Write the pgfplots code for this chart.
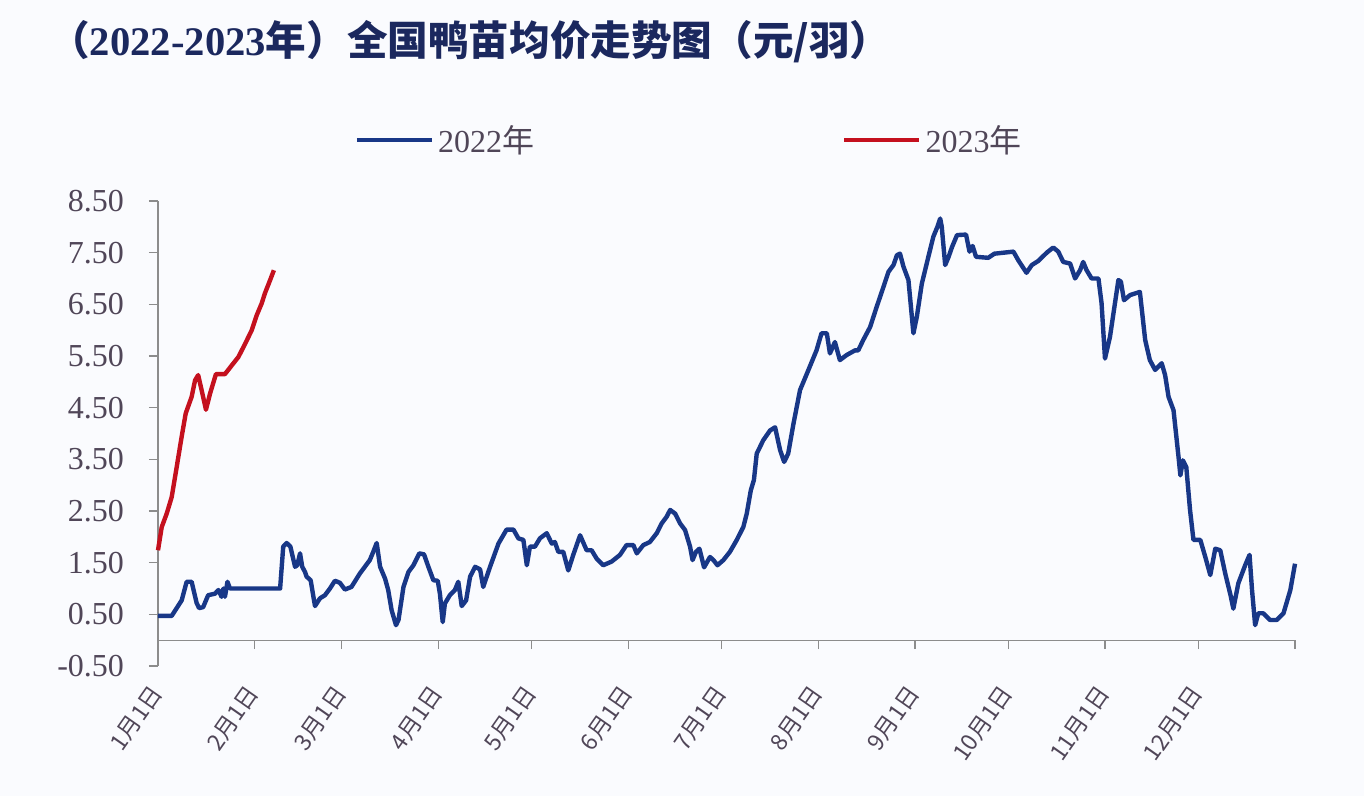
\documentclass[border=0pt]{standalone}
\usepackage{pgfplots}
\pgfplotsset{compat=1.18}
\usepackage{fontspec}
\setmainfont{Liberation Serif}
\newfontfamily\cjk{Noto Sans CJK SC}
\definecolor{bg}{RGB}{250,251,254}
\definecolor{navy}{RGB}{24,55,135}
\definecolor{redl}{RGB}{196,16,30}
\definecolor{titlec}{RGB}{27,40,94}
\definecolor{labc}{RGB}{80,70,88}
\definecolor{axc}{RGB}{140,140,140}
\newcommand\md[1]{{\cjk #1月1日}}
\begin{document}
\begin{tikzpicture}
\fill[bg] (-79pt,-65pt) rectangle (603pt,333pt);
\useasboundingbox (-79pt,-65pt) rectangle (603pt,333pt);
\node[anchor=west, text=titlec, inner sep=0pt] at (-54.5pt,312pt)
  {\fontsize{20.3}{23}\selectfont{\cjk\bfseries （}{\bfseries 2022-2023}{\cjk\bfseries 年）全国鸭苗均价走势图（元/羽）}};
\begin{axis}[
  scale only axis, width=568.5pt, height=232.5pt,
  xmin=0, xmax=365, ymin=-0.5, ymax=8.5,
  axis y line*=left, axis x line*=middle,
  hide obscured x ticks=false, hide obscured y ticks=false,
  axis line style={axc, line width=0.6pt},
  tick style={axc, line width=0.6pt},
  tick align=outside, major tick length=4.5pt,
  xtick={0,31,59,90,120,151,181,212,243,273,304,334,365},
  xticklabels={\md{1},\md{2},\md{3},\md{4},\md{5},\md{6},\md{7},\md{8},\md{9},\md{10},\md{11},\md{12},{}},
  xticklabel style={xshift=1.5pt, yshift=-17pt, rotate=55, anchor=east, font=\fontsize{11.5}{14}\selectfont, text=labc},
  ytick={-0.5,0.5,1.5,2.5,3.5,4.5,5.5,6.5,7.5,8.5},
  yticklabel style={font=\fontsize{16}{18}\selectfont, text=labc, xshift=-9pt,
    /pgf/number format/fixed, /pgf/number format/fixed zerofill,
    /pgf/number format/precision=2, /pgf/number format/assume math mode=true},
  legend style={at={(0.468,1.131)}, anchor=center, draw=none, fill=none,
    font=\fontsize{16}{18}\selectfont, text=labc,
    /tikz/every even column/.append style={column sep=152pt}},
  legend columns=2,
  legend image code/.code={\draw[#1] (0pt,0pt) -- (37.5pt,0pt);},
  clip=false,
]
\addplot[navy, line width=2.2pt, line join=round] coordinates {
(0,0.47)(4.4,0.47)(7.6,0.77)(9.2,1.13)(10.8,1.13)(12.4,0.72)(13.2,0.62)(14.5,0.64)
(16.1,0.87)(18.3,0.90)(19.4,0.97)(20.4,0.84)(21,1.0)(21.5,0.84)(22.3,1.13)(23.1,1.0)
(39.2,1.0)(40.2,1.81)(41.3,1.88)(42.5,1.81)(44,1.42)(44.7,1.45)(45.6,1.68)(46.3,1.42)
(47.2,1.32)(47.7,1.23)(49,1.16)(50.4,0.66)(52,0.81)(53.6,0.87)(55.2,1.0)(56.8,1.15)
(58.4,1.11)(60,0.98)(62.1,1.03)(64.8,1.29)(68,1.55)(69.1,1.71)(70.2,1.88)(71.3,1.42)
(72.9,1.19)(73.9,0.97)(75,0.58)(76.4,0.29)(77.2,0.39)(78.8,1.03)(80.4,1.32)(82,1.45)
(83.9,1.68)(85.4,1.66)(86.8,1.42)(88.4,1.16)(89.8,1.15)(90.5,0.90)(91.4,0.35)(92.1,0.71)
(93.7,0.87)(95.3,0.97)(96.4,1.13)(97.5,0.66)(98.9,0.77)(100.2,1.23)(101.8,1.42)(103.4,1.37)
(104.4,1.03)(106.6,1.42)(109.3,1.87)(111.9,2.14)(114.1,2.14)(115.7,1.97)(117.3,1.94)(118.4,1.45)
(119.4,1.81)(121,1.81)(122.6,1.97)(124.8,2.07)(126.4,1.87)(127.4,1.90)(128.5,1.71)(130.1,1.71)
(131.7,1.35)(133.3,1.65)(135.5,2.03)(137.6,1.74)(139.2,1.74)(140.8,1.58)(142.9,1.45)(145.6,1.52)
(148.3,1.65)(150.4,1.84)(152.6,1.84)(153.7,1.68)(155.8,1.84)(157.9,1.90)(160.1,2.07)(161.7,2.26)
(163.3,2.39)(164.4,2.52)(166,2.45)(167.6,2.26)(169.2,2.13)(170.8,1.81)(171.6,1.55)(172.7,1.71)
(173.8,1.77)(175.3,1.41)(177.2,1.61)(178.3,1.55)(179.6,1.45)(181.5,1.55)(183.6,1.71)(185.8,1.94)
(187.9,2.19)(189,2.45)(190.3,2.90)(191.3,3.10)(192.2,3.61)(194.3,3.87)(196.5,4.06)(198.1,4.12)
(199.7,3.68)(201,3.45)(202.3,3.61)(204,4.19)(206.1,4.84)(208.8,5.23)(211.4,5.61)(213,5.94)
(214.7,5.94)(215.7,5.55)(217.3,5.77)(218.9,5.42)(221.1,5.52)(223.8,5.61)(224.8,5.61)(226.4,5.81)
(228.6,6.06)(230.7,6.45)(232.9,6.84)(234.5,7.13)(236.1,7.26)(237.2,7.45)(238.2,7.48)(239.3,7.23)
(240.9,6.97)(242.5,5.94)(243.6,6.26)(245.2,6.90)(247.3,7.42)(248.9,7.81)(250.2,8.00)(251.1,8.16)
(251.6,8.00)(252.7,7.26)(253.8,7.42)(254.9,7.61)(256.5,7.84)(259.4,7.85)(260.5,7.52)(261.5,7.63)
(262.6,7.42)(266.5,7.40)(268.5,7.48)(274.6,7.52)(276.2,7.35)(278.8,7.11)(280.5,7.26)(282.6,7.34)
(285.3,7.50)(287.4,7.60)(289,7.52)(290.6,7.32)(292.8,7.29)(294.4,7.00)(296,7.16)(297,7.32)
(298.1,7.16)(299.7,7.00)(301.9,7.00)(302.9,6.52)(304,5.45)(305.6,5.87)(308.3,6.97)(309.1,6.94)
(310.1,6.58)(312.1,6.68)(315.2,6.74)(316.9,5.81)(318.4,5.42)(320.1,5.23)(322.2,5.36)(323.3,5.13)
(324.4,4.71)(326,4.45)(327.6,3.55)(328.2,3.19)(329,3.48)(330.1,3.35)(331.3,2.52)(332.4,1.94)
(334.6,1.94)(336.2,1.61)(337.8,1.26)(339.4,1.77)(341,1.74)(342.6,1.29)(344.3,0.87)(345.2,0.61)
(346.8,1.10)(349,1.45)(350.4,1.65)(351.2,0.97)(352.2,0.29)(353.2,0.52)(354.8,0.52)(357,0.39)
(359.1,0.39)(361.3,0.52)(363.5,0.97)(365,1.48)
};
\addlegendentry{2022{\cjk 年}}
\addplot[redl, line width=2.2pt, line join=round] coordinates {
(0,1.74)(1.2,2.19)(2.8,2.45)(4.4,2.77)(6,3.35)(7.6,3.94)(8.9,4.39)(10.8,4.71)
(11.9,5.03)(12.9,5.13)(14,4.84)(15.4,4.46)(16.7,4.77)(18.6,5.15)(21.5,5.15)(23.7,5.32)
(25.8,5.48)(28,5.74)(30.1,6.00)(31.7,6.29)(33.3,6.52)(34.3,6.71)(36,6.97)(37.2,7.16)
};
\addlegendentry{2023{\cjk 年}}
\end{axis}
\end{tikzpicture}
\end{document}
